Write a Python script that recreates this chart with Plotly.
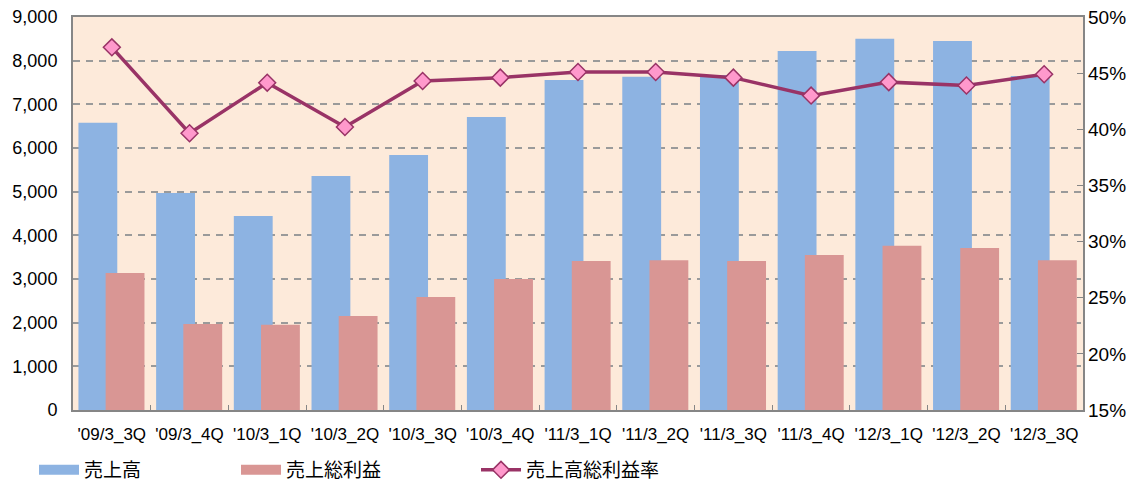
import plotly.graph_objects as go

categories = ["'09/3_3Q", "'09/3_4Q", "'10/3_1Q", "'10/3_2Q", "'10/3_3Q", "'10/3_4Q",
              "'11/3_1Q", "'11/3_2Q", "'11/3_3Q", "'11/3_4Q", "'12/3_1Q", "'12/3_2Q", "'12/3_3Q"]
sales = [6580, 4970, 4440, 5360, 5840, 6710, 7560, 7630, 7670, 8220, 8500, 8450, 7650]
gross_profit = [3140, 1970, 1950, 2150, 2590, 3000, 3410, 3430, 3410, 3550, 3760, 3710, 3430]
gross_margin = [0.473, 0.3965, 0.4415, 0.402, 0.443, 0.446, 0.451, 0.451, 0.446, 0.430, 0.442, 0.439, 0.449]

names = ["売上高", "売上総利益", "売上高総利益率"]

BLUE = "#8DB3E2"
RED = "#D99694"
PLUM = "#993366"
PINK = "#FF99CC"
FONT = "Liberation Sans, Arial, Noto Sans CJK JP"

fig = go.Figure()
fig.add_trace(go.Bar(x=categories, y=sales, name=names[0], marker_color=BLUE,
                     marker_line_width=0, width=0.5, offset=-0.43, showlegend=False))
fig.add_trace(go.Bar(x=categories, y=gross_profit, name=names[1], marker_color=RED,
                     marker_line_width=0, width=0.5, offset=-0.08, showlegend=False))
fig.add_trace(go.Scatter(x=categories, y=gross_margin, name=names[2], yaxis="y2",
                         mode="lines+markers",
                         line=dict(color=PLUM, width=3.5),
                         marker=dict(symbol="diamond", size=13, color=PINK,
                                     line=dict(color=PLUM, width=1.5)),
                         legend="legend3"))
# legend entries for the bars (wide swatches)
fig.add_trace(go.Scatter(x=[None], y=[None], name=names[0], mode="lines",
                         line=dict(color=BLUE, width=12), legend="legend"))
fig.add_trace(go.Scatter(x=[None], y=[None], name=names[1], mode="lines",
                         line=dict(color=RED, width=12), legend="legend2"))

leg_common = dict(orientation="h", yanchor="middle", xanchor="left",
                  xref="container", yref="container",
                  font=dict(family=FONT, size=19, color="#000000"),
                  bgcolor="rgba(0,0,0,0)", itemwidth=40)

fig.update_layout(
    width=1143, height=482,
    margin=dict(l=73, r=60, t=17, b=72, autoexpand=False),
    paper_bgcolor="white",
    plot_bgcolor="#FDEADA",
    barmode="overlay",
    font=dict(family=FONT, size=17, color="#000000"),
    xaxis=dict(type="category", showline=True, mirror=True, linecolor="#868686", linewidth=2,
               ticks="inside", tickson="boundaries", ticklen=5, tickcolor="#868686",
               tickfont=dict(size=17), showgrid=False, ticklabelstandoff=8,
               range=[-0.5, 12.5]),
    yaxis=dict(range=[0, 9000], dtick=1000, tickformat=",", showline=True, mirror=True,
               linecolor="#868686", linewidth=2, gridcolor="#9A9A9A", griddash="7px,6px",
               gridwidth=1.5, ticks="", tickfont=dict(size=18), ticklabelstandoff=10,
               zeroline=False),
    yaxis2=dict(range=[0.15, 0.50], dtick=0.05, tickformat=".0%", overlaying="y", side="right",
                showgrid=False, ticks="inside", ticklen=6, tickcolor="#868686",
                tickfont=dict(size=19), ticklabelstandoff=4, zeroline=False, showline=False),
    legend=dict(x=34 / 1143, y=1 - 470 / 482, **leg_common),
    legend2=dict(x=236 / 1143, y=1 - 470 / 482, **leg_common),
    legend3=dict(x=476 / 1143, y=1 - 470 / 482, **leg_common),
)

fig.write_html("out.html", config={"displayModeBar": False},
               post_script="document.body.style.margin='0';")
